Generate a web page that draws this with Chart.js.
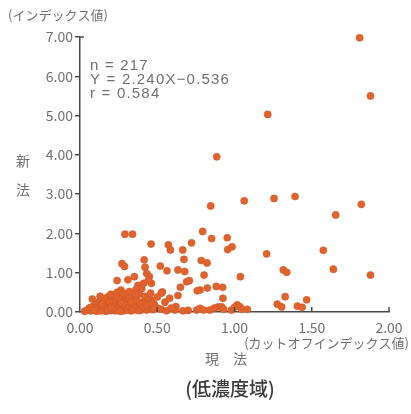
<!DOCTYPE html>
<html>
<head>
<meta charset="utf-8">
<script src="https://cdn.jsdelivr.net/npm/chart.js@4/dist/chart.umd.min.js"></script>
<style>
  body { margin: 0; background: #fff; }
  #wrap { width: 411px; height: 414px; }
</style>
</head>
<body>
<div id="wrap"><canvas id="scatter_chart" width="411" height="414"></canvas></div>
<script>
// 現法 (x) / 新法 (y)
var genhou = [
  1.81, 1.88, 1.215, 0.885, 0.846, 1.063, 1.256, 1.392, 1.821, 1.655,
  0.794, 0.852, 0.953, 0.956, 0.984, 1.208, 1.575, 0.785, 0.822, 0.803,
  1.316, 1.338, 1.038, 1.640, 1.880, 0.777, 0.824, 0.882, 0.923, 0.925,
  1.328, 1.277, 1.305, 1.467, 1.407, 1.438, 0.291, 0.340, 0.460, 0.572,
  0.585, 0.665, 0.722, 0.673, 0.415, 0.272, 0.288, 0.421, 0.520, 0.563,
  0.634, 0.678, 0.432, 0.449, 0.240, 0.310, 0.352, 0.412, 0.462, 0.375,
  0.400, 0.442, 0.650, 0.690, 0.708, 0.759, 0.533, 0.265, 0.362, 0.080,
  0.313, 0.384, 0.457, 0.525, 0.634, 0.183, 0.205,
  0.524, 0.621, 0.615, 0.665, 0.755, 0.777, 0.800, 0.840, 0.895, 0.917,
  0.930, 1.018, 1.036, 1.047, 1.083, 0.56, 0.59, 0.70, 0.87, 0.98,
  1.00, 0.48, 0.50, 0.46, 0.55, 0.44, 0.58, 0.50, 0.42, 0.36, 0.40,
  0.03, 0.05, 0.06, 0.07, 0.08, 0.09, 0.10, 0.10, 0.11, 0.12,
  0.12, 0.13, 0.13, 0.14, 0.14, 0.15, 0.15, 0.16, 0.16, 0.17,
  0.17, 0.18, 0.18, 0.19, 0.19, 0.20, 0.20, 0.21, 0.21, 0.22,
  0.22, 0.23, 0.23, 0.24, 0.24, 0.25, 0.25, 0.26, 0.26, 0.27,
  0.27, 0.28, 0.28, 0.29, 0.29, 0.30, 0.30, 0.31, 0.31, 0.32,
  0.32, 0.33, 0.33, 0.34, 0.35, 0.35, 0.36, 0.37, 0.38, 0.39,
  0.40, 0.41, 0.42, 0.43, 0.44, 0.45, 0.47, 0.16, 0.20, 0.24,
  0.11, 0.13, 0.15, 0.17, 0.19, 0.21, 0.22, 0.23, 0.24, 0.25,
  0.26, 0.27, 0.28, 0.29, 0.30, 0.31, 0.32, 0.33, 0.34, 0.36,
  0.37, 0.38, 0.39, 0.41, 0.43, 0.46, 0.48, 0.18, 0.14, 0.10,
  0.07, 0.09, 0.20, 0.26, 0.34, 0.36, 0.28, 0.32
];
var shinhou = [
  6.98, 5.50, 5.03, 3.95, 2.70, 2.83, 2.89, 2.94, 2.74, 2.47,
  2.05, 1.87, 1.89, 1.59, 1.66, 1.48, 1.57, 1.31, 1.25, 0.94,
  1.07, 1.01, 0.90, 1.09, 0.94, 0.56, 0.61, 0.65, 0.63, 0.35,
  0.39, 0.20, 0.13, 0.31, 0.15, 0.12, 1.98, 1.98, 1.73, 1.71,
  1.58, 1.58, 1.76, 1.34, 1.33, 1.23, 1.16, 1.14, 1.17, 1.05,
  1.07, 1.03, 0.98, 0.90, 0.80, 0.82, 0.90, 0.73, 0.73, 0.68,
  0.60, 0.80, 0.63, 0.77, 0.80, 0.54, 0.51, 0.56, 0.57, 0.33,
  0.43, 0.46, 0.48, 0.48, 0.42, 0.39, 0.27,
  0.07, 0.14, 0.05, 0.03, 0.05, 0.09, 0.05, 0.05, 0.13, 0.13,
  0.07, 0.18, 0.13, 0.07, 0.07, 0.03, 0.10, 0.04, 0.10, 0.05,
  0.12, 0.20, 0.10, 0.30, 0.25, 0.12, 0.35, 0.38, 0.40, 0.35, 0.25,
  0.02, 0.05, 0.10, 0.03, 0.08, 0.15, 0.04, 0.20, 0.12, 0.06,
  0.25, 0.09, 0.17, 0.03, 0.30, 0.11, 0.22, 0.06, 0.14, 0.19,
  0.02, 0.10, 0.27, 0.07, 0.16, 0.04, 0.22, 0.12, 0.33, 0.08,
  0.18, 0.03, 0.26, 0.13, 0.38, 0.06, 0.20, 0.10, 0.30, 0.15,
  0.04, 0.24, 0.09, 0.17, 0.42, 0.05, 0.28, 0.12, 0.20, 0.08,
  0.35, 0.15, 0.03, 0.22, 0.10, 0.30, 0.06, 0.18, 0.12, 0.04,
  0.16, 0.08, 0.22, 0.05, 0.30, 0.14, 0.06, 0.35, 0.45, 0.50,
  0.02, 0.40, 0.05, 0.10, 0.26, 0.06, 0.13, 0.15, 0.07, 0.12,
  0.18, 0.22, 0.03, 0.11, 0.16, 0.06, 0.13, 0.25, 0.09, 0.14,
  0.27, 0.04, 0.20, 0.13, 0.18, 0.22, 0.09, 0.05, 0.20, 0.10,
  0.12, 0.04, 0.12, 0.02, 0.05, 0.45, 0.48, 0.52
];
var xTicks = [0, 0.5, 1.0, 1.5, 2.0];
var yTicks = [0, 1, 2, 3, 4, 5, 6, 7];
var statLines = ['n = 217', 'Y = 2.240X\u22120.536', 'r = 0.584'];

var points = [];
for (var i = 0; i < genhou.length; i++) {
  points.push({ x: genhou[i], y: shinhou[i] });
}

var axisColor = '#4a4a4a';
var textColor = '#707070';
var jpFont = '"Noto Sans CJK JP", "Noto Sans", sans-serif';

// extra texts + inward ticks on the x axis
var extras = {
  id: 'extras',
  afterDraw: function(chart) {
    var ctx = chart.ctx;
    var a = chart.chartArea;
    var xs = chart.scales.x;
    ctx.save();
    ctx.strokeStyle = axisColor;
    ctx.lineWidth = 1.5;
    xTicks.forEach(function(v) {
      if (v === 0) return;
      var px = xs.getPixelForValue(v);
      ctx.beginPath();
      ctx.moveTo(px, a.bottom);
      ctx.lineTo(px, a.bottom - 5);
      ctx.stroke();
    });
    // little cap at the top of the y axis
    ctx.beginPath();
    ctx.moveTo(a.left, a.top);
    ctx.lineTo(a.left + 4, a.top);
    ctx.stroke();

    ctx.fillStyle = textColor;
    ctx.textBaseline = 'middle';
    ctx.font = '13px ' + jpFont;
    ctx.textAlign = 'left';
    ctx.fillText('(インデックス値)', 8, 15);
    ctx.textAlign = 'right';
    ctx.fillText('(カットオフインデックス値)', 409, 343);

    ctx.font = '14px ' + jpFont;
    ctx.textAlign = 'center';
    ctx.fillText('新', 23, 161);
    ctx.fillText('法', 23, 190);
    ctx.fillText('現\u3000法', 226, 359);

    ctx.textAlign = 'left';
    ctx.font = '15px "Liberation Sans", sans-serif';
    ctx.letterSpacing = '1.2px';
    statLines.forEach(function(s, k) {
      ctx.fillText(s, 90, 66 + k * 14);
    });
    ctx.letterSpacing = '0px';

    ctx.fillStyle = '#3a3a3a';
    ctx.font = '500 19px ' + jpFont;
    ctx.textAlign = 'center';
    ctx.fillText('(低濃度域)', 230, 389);
    ctx.restore();
  }
};

var myChart = document.getElementById('scatter_chart');
var scatterChart = new Chart(myChart, {
  type: 'scatter',
  data: {
    datasets: [{
      label: '新法',
      data: points,
      backgroundColor: '#e2622b',
      borderColor: '#c25a30',
      borderWidth: 0.5,
      pointRadius: 3.6,
      clip: false
    }]
  },
  options: {
    responsive: false,
    animation: false,
    layout: { padding: { top: 37, right: 22, bottom: 0, left: 0 } },
    plugins: {
      legend: { display: false },
      tooltip: { enabled: false }
    },
    scales: {
      x: {
        type: 'linear',
        min: 0,
        max: 2,
        afterBuildTicks: function(scale) {
          scale.ticks = xTicks.map(function(v) { return { value: v }; });
        },
        afterFit: function(scale) { scale.height = 102; },
        border: { display: true, color: axisColor, width: 1.5 },
        grid: { display: false, drawTicks: false },
        ticks: {
          padding: 7,
          color: textColor,
          font: { family: jpFont, size: 14 },
          maxRotation: 0,
          callback: function(v) { return Number(v).toFixed(2); }
        }
      },
      y: {
        type: 'linear',
        min: 0,
        max: 7,
        afterBuildTicks: function(scale) {
          scale.ticks = yTicks.map(function(v) { return { value: v }; });
        },
        afterFit: function(scale) { scale.width = 80; },
        border: { display: true, color: axisColor, width: 1.5 },
        grid: { drawOnChartArea: false, drawTicks: true, tickLength: 5, color: axisColor, lineWidth: 1.5 },
        ticks: {
          padding: 2,
          color: textColor,
          font: { family: jpFont, size: 14 },
          callback: function(v) { return Number(v).toFixed(2); }
        }
      }
    }
  },
  plugins: [extras]
});
</script>
</body>
</html>
